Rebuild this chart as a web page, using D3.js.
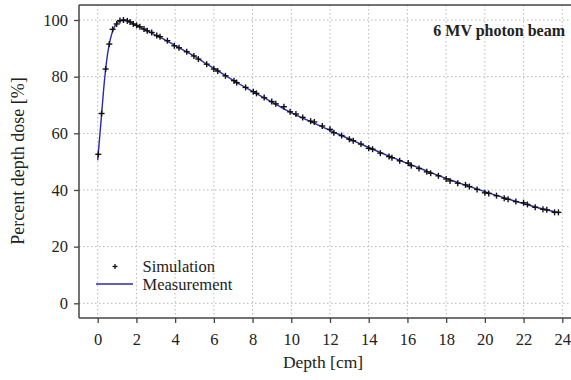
<!DOCTYPE html>
<html>
<head>
<meta charset="utf-8">
<script src="https://cdn.jsdelivr.net/npm/d3@7"></script>
<style>
  html, body { margin: 0; padding: 0; background: #fff; }
  svg { display: block; }
  text { font-family: "Liberation Serif", "Times New Roman", serif; fill: #222; }
</style>
</head>
<body>
<svg id="chart" width="571" height="380"></svg>
<script>
// ---- data ----
const simDepth = [0.03,0.2,0.41,0.6,0.77,0.98,1.15,1.33,1.53,1.67,1.84,2.01,2.18,2.39,2.56,2.79,3.05,3.22,3.6,3.96,4.2,4.6,4.97,5.2,5.63,6.0,6.2,6.6,7.04,7.18,7.64,8.04,8.2,8.6,8.99,9.2,9.62,9.94,10.24,10.59,11.0,11.19,11.6,12.0,12.2,12.6,13.0,13.2,13.6,14.0,14.2,14.6,15.05,15.2,15.6,16.04,16.2,16.6,17.0,17.2,17.6,18.0,18.2,18.6,19.0,19.2,19.6,20.0,20.2,20.6,21.0,21.2,21.6,22.0,22.2,22.6,23.0,23.2,23.6,23.8];
const simDose  = [52.6,67.0,82.7,91.5,96.7,98.6,99.8,100.0,99.7,99.3,98.6,98.1,97.6,96.8,96.2,95.6,94.5,94.1,92.7,90.9,90.2,88.8,87.3,86.2,84.4,82.7,82.0,80.3,78.6,77.9,76.2,74.7,74.1,72.6,71.2,70.4,69.4,67.6,66.8,65.6,64.3,64.0,62.6,61.4,60.2,59.2,57.9,57.4,56.2,54.7,54.4,53.0,51.8,51.4,50.3,49.5,48.6,47.6,46.4,45.9,45.0,43.9,43.2,42.4,41.8,41.2,40.2,39.0,38.8,38.0,37.1,36.7,35.9,35.5,34.9,33.9,33.2,33.0,32.1,32.1];
const measDepth = [0,0.1,0.2,0.3,0.4,0.5,0.6,0.7,0.8,0.9,1.0,1.2,1.4,1.6,1.8,2.0,2.5,3,3.5,4,4.5,5,5.5,6,6.5,7,7.5,8,8.5,9,9.5,10,11,12,13,14,15,16,17,18,19,20,21,22,23,23.8];
const measDose  = [50.5,58.5,66.5,75,82,87.5,91.5,94.5,96.6,98.0,99.0,99.8,100,99.5,98.8,98.1,96.4,94.6,92.9,91.0,89.1,87.2,85.0,82.9,80.8,78.7,76.7,74.8,72.9,71.0,69.1,67.3,64.1,61.0,58.0,55.0,52.1,49.4,46.7,44.1,41.7,39.4,37.2,35.2,33.3,32.0];
const xTicks = [0,2,4,6,8,10,12,14,16,18,20,22,24];
const yTicks = [0,20,40,60,80,100];
const labels = { x: "Depth [cm]", y: "Percent depth dose [%]", title: "6 MV photon beam", sim: "Simulation", meas: "Measurement" };

// ---- layout ----
const svg = d3.select("#chart");
const L = 79, R = 571, T = 5, B = 318;
const x = d3.scaleLinear().domain([0, 24]).range([97.7, 562.3]);
const y = d3.scaleLinear().domain([0, 100]).range([303.3, 20]);

// grid
const grid = svg.append("g").attr("stroke", "#b8b8b8").attr("stroke-width", 1).attr("stroke-dasharray", "1.5,2.5");
grid.selectAll("line.v").data(xTicks).join("line")
  .attr("x1", d => x(d)).attr("x2", d => x(d)).attr("y1", T).attr("y2", B);
grid.selectAll("line.h").data(yTicks).join("line")
  .attr("y1", d => y(d)).attr("y2", d => y(d)).attr("x1", L).attr("x2", R);

// axes
const xAxis = d3.axisBottom(x).tickValues(xTicks).tickSize(5).tickPadding(10).tickSizeOuter(0);
const yAxis = d3.axisLeft(y).tickValues(yTicks).tickSize(5).tickPadding(6).tickSizeOuter(0);
const gx = svg.append("g").attr("transform", `translate(0,${B})`).call(xAxis);
const gy = svg.append("g").attr("transform", `translate(${L},0)`).call(yAxis);
[gx, gy].forEach(g => {
  g.select(".domain").remove();
  g.selectAll(".tick line").attr("stroke", "#444").attr("stroke-width", 1.3);
  g.selectAll(".tick text").attr("font-size", 16.5).attr("font-family", "Liberation Serif, serif").attr("fill", "#222");
});
// frame lines (left, bottom, top)
const frame = svg.append("g").attr("stroke", "#444").attr("stroke-width", 1.5);
frame.append("line").attr("x1", L).attr("x2", L).attr("y1", T).attr("y2", B);
frame.append("line").attr("x1", L).attr("x2", R).attr("y1", B).attr("y2", B);
frame.append("line").attr("x1", L).attr("x2", R).attr("y1", T).attr("y2", T);

// measurement line
const meas = measDepth.map((d, i) => [d, measDose[i]]);
svg.append("path").datum(meas)
  .attr("fill", "none").attr("stroke", "#2a2aaa").attr("stroke-width", 1.4)
  .attr("d", d3.line().x(d => x(d[0])).y(d => y(d[1])).curve(d3.curveMonotoneX));

// simulation markers
const sim = simDepth.map((d, i) => [d, simDose[i]]);
const mk = svg.append("g").attr("stroke", "#111").attr("stroke-width", 1.4);
mk.selectAll("g").data(sim).join("g")
  .attr("transform", d => `translate(${x(d[0])},${y(d[1])})`)
  .each(function() {
    const g = d3.select(this);
    g.append("line").attr("x1", -3).attr("x2", 3);
    g.append("line").attr("y1", -3).attr("y2", 3);
  });

// title
svg.append("text").attr("x", 565).attr("y", 36).attr("text-anchor", "end")
  .attr("font-size", 16).attr("font-weight", "bold").text(labels.title);

// axis labels
svg.append("text").attr("x", 323).attr("y", 368).attr("text-anchor", "middle")
  .attr("font-size", 17.5).text(labels.x);
svg.append("text").attr("transform", `translate(24,161) rotate(-90)`).attr("text-anchor", "middle")
  .attr("font-size", 18).text(labels.y);

// legend
const lg = svg.append("g");
lg.append("line").attr("x1", 115 - 2.5).attr("x2", 115 + 2.5).attr("y1", 266.5).attr("y2", 266.5).attr("stroke", "#111").attr("stroke-width", 1.3);
lg.append("line").attr("x1", 115).attr("x2", 115).attr("y1", 264).attr("y2", 269).attr("stroke", "#111").attr("stroke-width", 1.3);
lg.append("text").attr("x", 142.5).attr("y", 271.5).attr("font-size", 16.5).text(labels.sim);
lg.append("line").attr("x1", 96).attr("x2", 133).attr("y1", 284).attr("y2", 284).attr("stroke", "#2a2aaa").attr("stroke-width", 1.3);
lg.append("text").attr("x", 142.5).attr("y", 289.5).attr("font-size", 16.5).text(labels.meas);
</script>
</body>
</html>
